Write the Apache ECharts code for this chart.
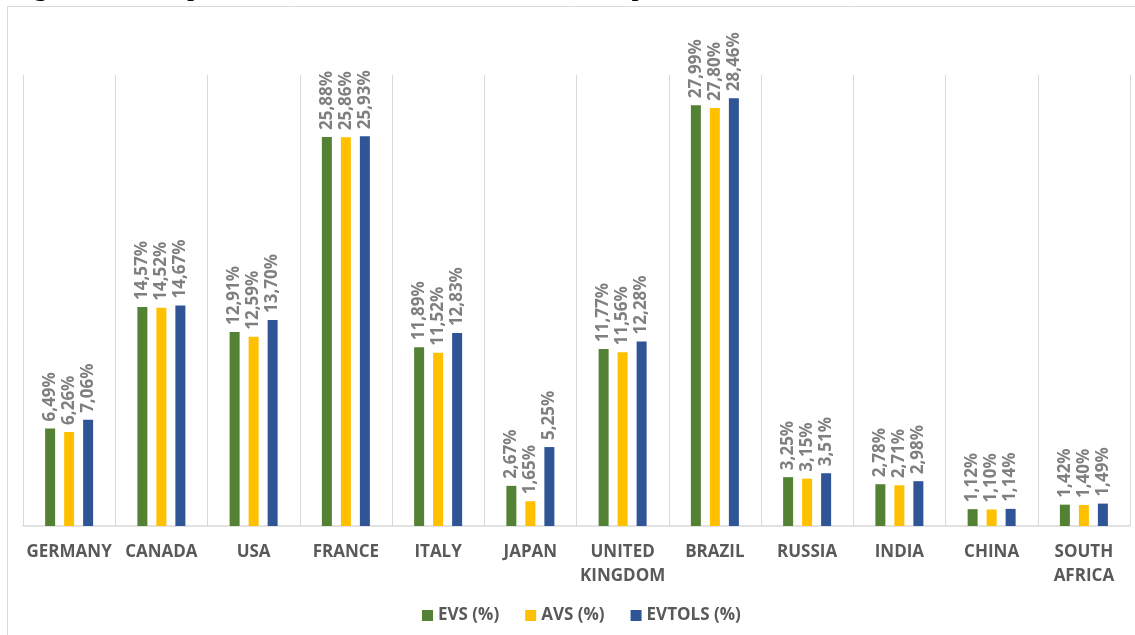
<!DOCTYPE html>
<html>
<head>
<meta charset="utf-8">
<script src="https://cdn.jsdelivr.net/npm/echarts@6/dist/echarts.min.js"></script>
<style>
  html, body { margin: 0; padding: 0; background: #ffffff; }
  #chart { width: 1135px; height: 635px; }
</style>
</head>
<body>
<div id="chart"></div>
<script>
// Countries along the x axis
const countries = ['GERMANY', 'CANADA', 'USA', 'FRANCE', 'ITALY', 'JAPAN', 'UNITED\nKINGDOM', 'BRAZIL', 'RUSSIA', 'INDIA', 'CHINA', 'SOUTH\nAFRICA'];

// Share per country (%)
const evs    = [6.49, 14.57, 12.91, 25.88, 11.89, 2.67, 11.77, 27.99, 3.25, 2.78, 1.12, 1.42];
const avs    = [6.26, 14.52, 12.59, 25.86, 11.52, 1.65, 11.56, 27.80, 3.15, 2.71, 1.10, 1.40];
const evtols = [7.06, 14.67, 13.70, 25.93, 12.83, 5.25, 12.28, 28.46, 3.51, 2.98, 1.14, 1.49];

const seriesNames = ['EVS (%)', 'AVS (%)', 'EVTOLS (%)'];
const captionText = 'Figure 8 - Comparison with UGC Sustainable Development Goals';

const colors = ['#548235', '#FFC000', '#2F5597'];
const textGray = '#595959';
const labelGray = '#7f7f7f';
const gridGray = '#d9d9d9';

const fmt = v => v.toFixed(2).replace('.', ',') + '%';

function barSeries(name, data, color) {
  return {
    name: name,
    type: 'bar',
    data: data,
    barWidth: 10,
    barGap: '90%',
    itemStyle: { color: color },
    label: {
      show: true,
      position: 'top',
      rotate: 90,
      align: 'left',
      verticalAlign: 'middle',
      distance: 7,
      color: labelGray,
      fontFamily: 'Open Sans',
      fontWeight: 'bold',
      fontSize: 17,
      formatter: p => fmt(p.value)
    }
  };
}

const chart = echarts.init(document.getElementById('chart'), null, { renderer: 'canvas' });
chart.setOption({
  animation: false,
  backgroundColor: '#ffffff',
  color: colors,
  graphic: [
    {
      type: 'rect',
      silent: true,
      shape: { x: 7.5, y: 6.5, width: 1300, height: 800 },
      style: { fill: 'none', stroke: gridGray, lineWidth: 1 }
    },
    {
      type: 'text',
      silent: true,
      x: 9,
      y: 2,
      style: {
        text: captionText,
        fill: '#000000',
        font: '29px "Liberation Serif"',
        verticalAlign: 'bottom'
      }
    }
  ],
  legend: {
    data: seriesNames,
    left: 417,
    top: 602,
    icon: 'rect',
    itemWidth: 11,
    itemHeight: 11,
    itemGap: 26,
    textStyle: {
      color: textGray,
      fontFamily: 'Open Sans',
      fontWeight: 'bold',
      fontSize: 17
    }
  },
  grid: { left: 23, right: 5, top: 75, bottom: 109, containLabel: false },
  xAxis: {
    type: 'category',
    data: countries,
    boundaryGap: true,
    axisTick: { show: false },
    axisLine: { show: true, lineStyle: { color: gridGray, width: 1.5 } },
    splitLine: { show: true, lineStyle: { color: gridGray, width: 1 } },
    axisLabel: {
      interval: 0,
      margin: 14,
      color: textGray,
      fontFamily: 'Open Sans',
      fontWeight: 'bold',
      fontSize: 17,
      lineHeight: 24
    }
  },
  yAxis: {
    type: 'value',
    min: 0,
    max: 30,
    interval: 10,
    show: false,
    splitLine: { show: false }
  },
  series: [
    barSeries(seriesNames[0], evs, colors[0]),
    barSeries(seriesNames[1], avs, colors[1]),
    barSeries(seriesNames[2], evtols, colors[2])
  ]
});
</script>
</body>
</html>
